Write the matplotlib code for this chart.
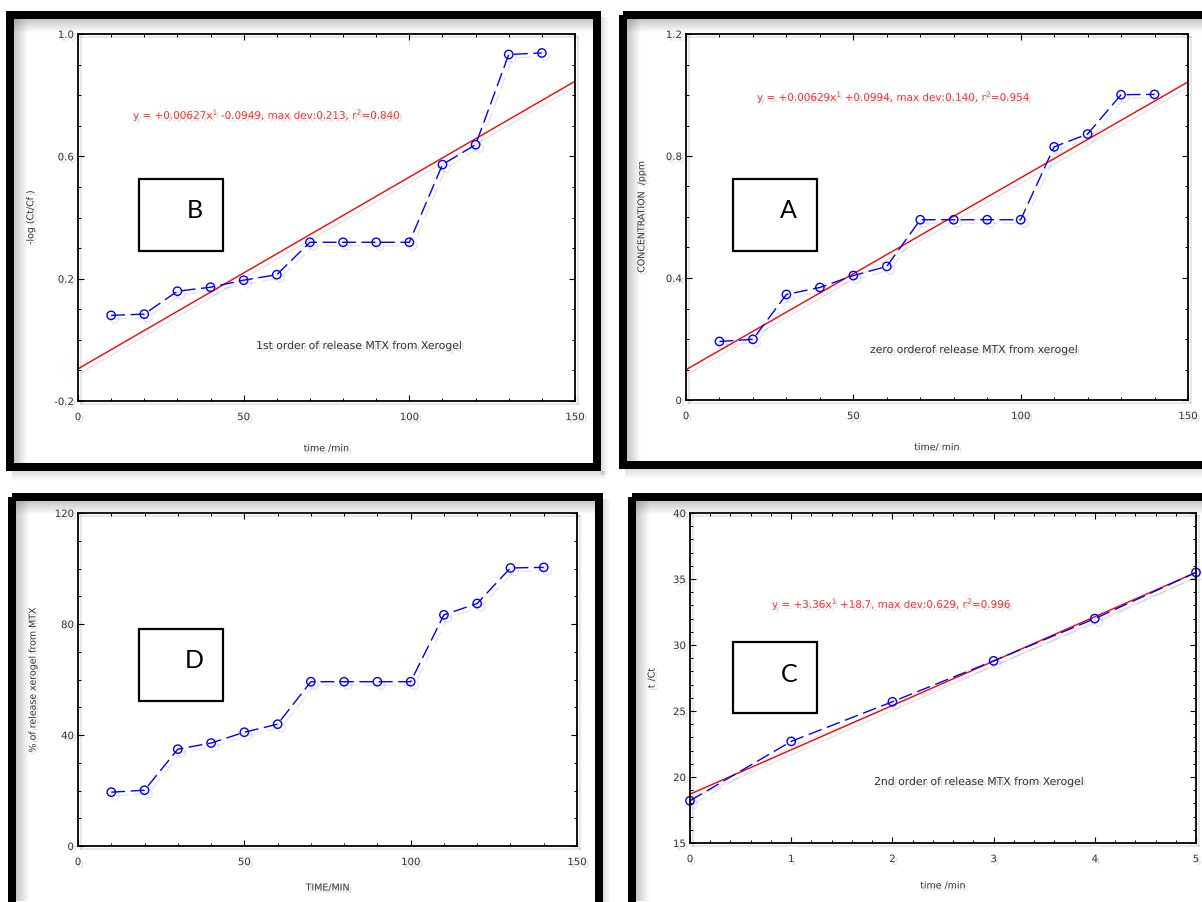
import matplotlib
matplotlib.use("Agg")
import numpy as np
import matplotlib.pyplot as plt
import matplotlib.patheffects as pe
from matplotlib.ticker import MultipleLocator, FixedLocator
from matplotlib.patches import Rectangle

# ---------------- data ----------------
time_min = [10, 20, 30, 40, 50, 60, 70, 80, 90, 100, 110, 120, 130, 140]
first_order = [0.080, 0.084, 0.159, 0.172, 0.195, 0.213, 0.319, 0.319, 0.319, 0.319, 0.573, 0.638, 0.933, 0.938]
concentration = [0.192, 0.199, 0.346, 0.369, 0.408, 0.438, 0.591, 0.591, 0.591, 0.591, 0.830, 0.872, 1.001, 1.002]
percent_release = [19.4, 20.1, 34.9, 37.1, 41.0, 43.9, 59.2, 59.2, 59.2, 59.2, 83.3, 87.4, 100.2, 100.4]
second_x = [0, 1, 2, 3, 4, 5]
second_y = [18.2, 22.7, 25.7, 28.8, 32.0, 35.5]

fit_first = (0.00627, -0.0949)
fit_zero = (0.00629, 0.0994)
fit_second = (3.36, 18.7)

yticks_first = [-0.2, 0.2, 0.6, 1.0]
yticks_zero = [0, 0.4, 0.8, 1.2]
yticks_pct = [0, 40, 80, 120]
yticks_second = [15, 20, 25, 30, 35, 40]
xticks_time = [0, 50, 100, 150]
xticks_second = [0, 1, 2, 3, 4, 5]

eq_first = r"y = +0.00627x$^{1}$ -0.0949, max dev:0.213, r$^{2}$=0.840"
eq_zero = r"y = +0.00629x$^{1}$ +0.0994, max dev:0.140, r$^{2}$=0.954"
eq_second = r"y = +3.36x$^{1}$ +18.7, max dev:0.629, r$^{2}$=0.996"

note_first = "1st order of release MTX from Xerogel"
note_zero = "zero orderof release MTX from xerogel"
note_second = "2nd order of release MTX from Xerogel"

# ---------------- figure ----------------
W, H = 1202, 902
fig = plt.figure(figsize=(W / 100, H / 100), dpi=100)
fig.patch.set_facecolor("white")

shadow_line = [pe.SimpleLineShadow(offset=(2.5, -2.5), shadow_color="k", alpha=0.10), pe.Normal()]
shadow_text = [pe.withSimplePatchShadow(offset=(1.8, -1.8), shadow_rgbFace="0.5", alpha=0.3)]


def fax(l, t, r, b):
    ax = fig.add_axes([l / W, 1 - b / H, (r - l) / W, (b - t) / H])
    ax.patch.set_alpha(0)
    return ax


def style(ax, xlim, ylim, xticks, xmin, yticks, ymin, xlabel, ylabel, ylab_x, xlab_y, yfmt):
    ax.set_xlim(*xlim)
    ax.set_ylim(*ylim)
    ax.xaxis.set_major_locator(FixedLocator(xticks))
    ax.xaxis.set_minor_locator(MultipleLocator(xmin))
    ax.yaxis.set_major_locator(FixedLocator(yticks))
    ax.yaxis.set_minor_locator(MultipleLocator(ymin))
    ax.yaxis.set_major_formatter(yfmt)
    ax.xaxis.set_major_formatter(lambda v, p: f"{v:g}")
    ax.tick_params(which="both", direction="in", top=True, right=True, color="black")
    ax.tick_params(which="major", length=4, width=0.8, labelsize=7.3, labelcolor="#333333")
    ax.tick_params(which="minor", length=2.5, width=0.7)
    ax.tick_params(axis="x", pad=8)
    ax.tick_params(axis="y", pad=3)
    for s in ax.spines.values():
        s.set_linewidth(1.3)
        s.set_path_effects(shadow_line)
    for t in ax.get_xticklabels() + ax.get_yticklabels():
        t.set_path_effects(shadow_text)
    ax.set_xlabel(xlabel, fontsize=6.8, color="#333333")
    ax.set_ylabel(ylabel, fontsize=6.8, color="#333333")
    ax.xaxis.set_label_coords(0.5, xlab_y)
    ax.xaxis.label.set_va("center")
    ax.yaxis.set_label_coords(ylab_x, 0.5)
    ax.yaxis.label.set_va("center")
    ax.xaxis.label.set_path_effects(shadow_text)
    ax.yaxis.label.set_path_effects(shadow_text)


def data_line(ax, x, y):
    ax.plot(x, y, color="blue", lw=1, ls=(0, (10, 4)), marker="o", ms=6,
            mfc="none", mec="blue", mew=1, path_effects=shadow_line, clip_on=False)


def fit_line(ax, fit, xmax):
    xs = np.array([0.0, xmax])
    ax.plot(xs, fit[0] * xs + fit[1], color="red", lw=1, path_effects=shadow_line)


# Panel B (first order)
axB = fax(78, 34, 575, 401)
fit_line(axB, fit_first, 150)
data_line(axB, time_min, first_order)
style(axB, (0, 150), (-0.2, 1.0), xticks_time, 10, yticks_first, 0.1, "time /min", "-log (Ct/Cf )",
      -0.095, -0.13, lambda v, p: f"{v:.1f}")

# Panel A (zero order)
axA = fax(686, 34, 1188, 400)
fit_line(axA, fit_zero, 150)
data_line(axA, time_min, concentration)
style(axA, (0, 150), (0, 1.2), xticks_time, 10, yticks_zero, 0.1, "time/ min", "CONCENTRATION  /ppm",
      -0.088, -0.13, lambda v, p: "0" if abs(v) < 1e-9 else f"{v:.1f}")

# Panel D (percent release)
axD = fax(78, 513, 577, 846)
data_line(axD, time_min, percent_release)
style(axD, (0, 150), (0, 120), xticks_time, 10, yticks_pct, 10, "TIME/MIN", "% of release xerogel from MTX",
      -0.09, -0.126, lambda v, p: f"{v:g}")

# Panel C (second order)
axC = fax(690, 513, 1196, 843)
fit_line(axC, fit_second, 5)
data_line(axC, second_x, second_y)
style(axC, (0, 5), (15, 40), xticks_second, 0.2, yticks_second, 1, "time /min", "t /Ct",
      -0.075, -0.13, lambda v, p: f"{v:g}")

# ---------------- decorations (pixel coordinates) ----------------
deco = fig.add_axes([0, 0, 1, 1], zorder=5)
deco.patch.set_alpha(0)
deco.axis("off")


def band(x0, x1, y0, y1, vertical, amax=0.4):
    n = 40
    a = np.linspace(amax, 0, n) ** 1.0
    if vertical:
        arr = np.zeros((n, 1, 4))
        arr[:, 0, :3] = 0.45
        arr[:, 0, 3] = a
    else:
        arr = np.zeros((1, n, 4))
        arr[0, :, :3] = 0.45
        arr[0, :, 3] = a
    deco.imshow(arr, extent=(x0, x1, y1, y0), aspect="auto", interpolation="bilinear",
                origin="upper", zorder=1)


frames = [(6, 11, 601, 471), (619, 11, 1230, 469), (8, 493, 603, 909), (628, 493, 1230, 909)]
lw_px = 8
for (x0, y0, x1, y1) in frames:
    band(x0 + lw_px, x1 - lw_px, y0 + lw_px, y0 + lw_px + 14, True)
    band(x0 + lw_px, x0 + lw_px + 14, y0 + lw_px, y1 - lw_px, False)
    band(x0 + 6, x1 + 4, y1, y1 + 10, True, amax=0.25)
    band(x1, x1 + 8, y0 + 6, y1 + 4, False, amax=0.25)
    deco.add_patch(Rectangle((x0 + lw_px / 2, y0 + lw_px / 2), x1 - x0 - lw_px, y1 - y0 - lw_px,
                             fill=False, lw=lw_px * 0.72, ec="black", zorder=3))

# letter boxes
boxes = [("B", 139, 179, 223, 251, 195, 211),
         ("A", 733, 179, 817, 251, 788, 211),
         ("D", 139, 629, 223, 701, 194, 661),
         ("C", 733, 642, 817, 713, 789, 675)]
for (lab, x0, y0, x1, y1, tx, ty) in boxes:
    deco.add_patch(Rectangle((x0, y0), x1 - x0, y1 - y0, fill=False, lw=1.6, ec="black", zorder=3))
    deco.text(tx, ty, lab, fontsize=18, family="Lato", ha="center", va="center", color="black", zorder=4)

# equations and notes
for (txt, x, y) in [(eq_first, 133, 115), (eq_zero, 757, 97), (eq_second, 772, 604)]:
    deco.text(x, y, txt, fontsize=7.5, color="#ff3030", ha="left", va="center",
              path_effects=shadow_text, zorder=4)
for (txt, x, y) in [(note_first, 360, 346), (note_zero, 975, 350), (note_second, 980, 782)]:
    deco.text(x, y, txt, fontsize=7.8, color="#333333", ha="center", va="center",
              path_effects=shadow_text, zorder=4)

deco.set_xlim(0, W)
deco.set_ylim(H, 0)

fig.savefig("out.png", dpi=100, facecolor="white")
